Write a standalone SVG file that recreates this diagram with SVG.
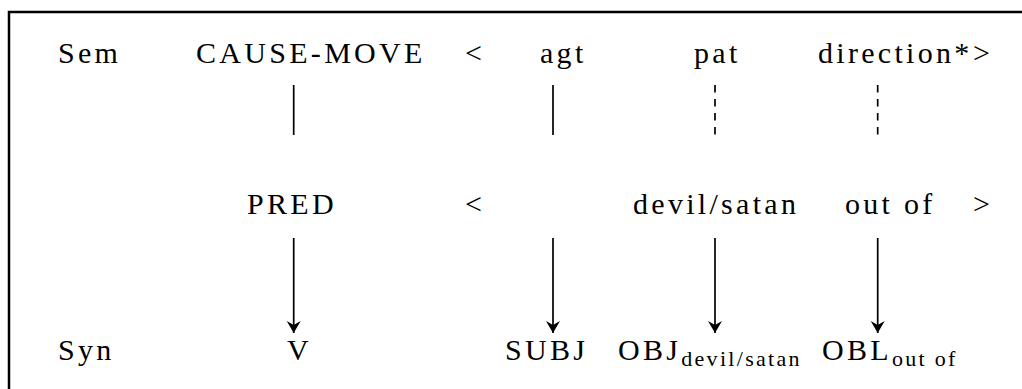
<svg xmlns="http://www.w3.org/2000/svg" width="1022" height="389" viewBox="0 0 1022 389" font-family="Liberation Serif, serif">
  <style>
    .t { font-size: 30px; letter-spacing: 3.3px; fill: #000; }
    .sub { font-size: 22px; letter-spacing: 2.3px; }
    .link { stroke: #000; stroke-width: 1.7; fill: none; }
    .dash { stroke-dasharray: 7.5 6.5; }
  </style>
  <defs>
    <marker id="head" markerUnits="userSpaceOnUse" markerWidth="13" markerHeight="16" refX="12" refY="7.5" orient="auto" viewBox="0 0 13 16">
      <path d="M12,7.5 L0,0.5 L4,7.5 L0,14.5 Z" fill="#000"/>
    </marker>
  </defs>

  <!-- frame (open on the right and bottom) -->
  <path d="M9,389 V12 H1022" fill="none" stroke="#000" stroke-width="2.5"/>

  <!-- row labels -->
  <g id="label-sem"><text class="t" x="58" y="63">Sem</text></g>
  <g id="label-syn"><text class="t" x="58" y="360">Syn</text></g>

  <!-- semantic row -->
  <g id="sem-pred"><text class="t" x="196" y="63">CAUSE-MOVE</text></g>
  <g id="sem-open"><text class="t" x="465" y="63">&lt;</text></g>
  <g id="sem-agt"><text class="t" x="540" y="63">agt</text></g>
  <g id="sem-pat"><text class="t" x="694" y="63">pat</text></g>
  <g id="sem-dir"><text class="t" x="818" y="63">direction*</text></g>
  <g id="sem-close"><text class="t" x="973" y="63">&gt;</text></g>

  <!-- argument structure row -->
  <g id="pred"><text class="t" x="247" y="214">PRED</text></g>
  <g id="pred-open"><text class="t" x="465" y="214">&lt;</text></g>
  <g id="arg-devil"><text class="t" x="633" y="214">devil/satan</text></g>
  <g id="arg-outof"><text class="t" x="845" y="214">out of</text></g>
  <g id="pred-close"><text class="t" x="973" y="214">&gt;</text></g>

  <!-- syntactic row -->
  <g id="syn-v"><text class="t" x="287" y="360">V</text></g>
  <g id="syn-subj"><text class="t" x="505" y="360">SUBJ</text></g>
  <g id="syn-obj"><text class="t" x="618" y="360">OBJ<tspan class="sub" dy="6">devil/satan</tspan></text></g>
  <g id="syn-obl"><text class="t" x="822" y="360">OBL<tspan class="sub" dy="6">out of</tspan></text></g>

  <!-- connectors -->
  <g id="connectors">
    <line class="link" x1="293.7" y1="85" x2="293.7" y2="135"/>
    <line class="link" x1="553" y1="85" x2="553" y2="135"/>
    <line class="link dash" x1="715" y1="85" x2="715" y2="135"/>
    <line class="link dash" x1="877.7" y1="85" x2="877.7" y2="135"/>

    <line class="link" x1="293.7" y1="238" x2="293.7" y2="333" marker-end="url(#head)"/>
    <line class="link" x1="553" y1="238" x2="553" y2="333" marker-end="url(#head)"/>
    <line class="link" x1="715" y1="238" x2="715" y2="333" marker-end="url(#head)"/>
    <line class="link" x1="877.7" y1="238" x2="877.7" y2="333" marker-end="url(#head)"/>
  </g>
</svg>
